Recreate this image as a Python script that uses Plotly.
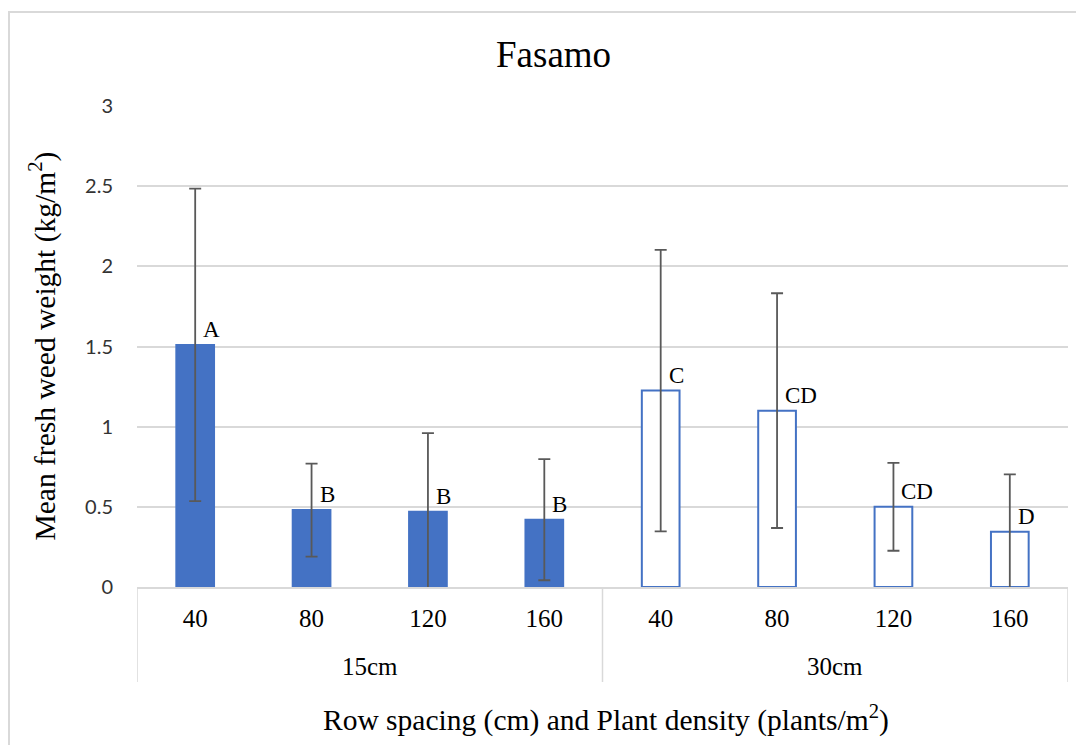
import plotly.graph_objects as go

# ---- data ----
spacings = ["15cm", "30cm"]
densities = ["40", "80", "120", "160"]
mean_15cm = [1.51, 0.48, 0.47, 0.42]
mean_30cm = [1.225, 1.10, 0.50, 0.345]
err_15cm = [0.975, 0.29, 0.49, 0.378]
err_30cm = [0.878, 0.732, 0.274, 0.358]
letters_15cm = ["A", "B", "B", "B"]
letters_30cm = ["C", "CD", "CD", "D"]
y_ticks = [0, 0.5, 1, 1.5, 2, 2.5, 3]

BLUE = "#4472C4"
GRID = "#D9D9D9"
SERIF = "Liberation Serif, Times New Roman, serif"

n_in = len(densities)
groups = [(s, d) for s in spacings for d in densities]
xpos = list(range(len(groups)))
ticktext = [d for _, d in groups]
means = mean_15cm + mean_30cm
errs = err_15cm + err_30cm
letters = letters_15cm + letters_30cm
fills = [BLUE] * len(mean_15cm) + ["white"] * len(mean_30cm)

# page has 8px body margin: figure pixel = screen pixel - 8
W, H = 1076, 737
ML, MR, MT, MB = 129, 16, 98, 158
PW = W - ML - MR
PH = H - MT - MB


def px_x(px):
    return (px - 8 - ML) / PW


def px_y(py):
    return (H - MB - (py - 8)) / PH


fig = go.Figure()
fig.add_trace(go.Bar(
    x=xpos,
    y=means,
    width=0.324,
    marker=dict(color=fills, line=dict(color=BLUE, width=2)),
    error_y=dict(type="data", array=errs, visible=True,
                 color="#595959", thickness=1.8, width=6),
    showlegend=False,
    hoverinfo="skip",
))

annotations = []
for xi, m, lab in zip(xpos, means, letters):
    annotations.append(dict(
        x=xi, y=m, xref="x", yref="y", text=lab, showarrow=False,
        xanchor="left", yanchor="bottom", xshift=6, yshift=1,
        font=dict(family=SERIF, size=23, color="black"),
    ))

# outer group labels and dividers
shapes = []
for gi, s in enumerate(spacings):
    center = gi * n_in + (n_in - 1) / 2
    annotations.append(dict(
        x=center, y=px_y(666), xref="x", yref="paper", text=s,
        showarrow=False, xanchor="center", yanchor="middle",
        font=dict(family=SERIF, size=25, color="black"),
    ))
for b in range(len(spacings) + 1):
    xb = b * n_in - 0.5
    shapes.append(dict(type="line", xref="x", yref="paper",
                       x0=xb, x1=xb, y0=0, y1=px_y(682),
                       line=dict(color=GRID, width=1.5)))

annotations.append(dict(
    x=px_x(553), y=px_y(55), xref="paper", yref="paper",
    text="Fasamo", showarrow=False, xanchor="center", yanchor="middle",
    font=dict(family=SERIF, size=37, color="black"),
))
annotations.append(dict(
    x=px_x(43), y=0.5, xref="paper", yref="paper",
    text="Mean fresh weed weight (kg/m<sup>2</sup>)", showarrow=False,
    textangle=-90, xanchor="center", yanchor="middle",
    font=dict(family=SERIF, size=29.5, color="black"),
))
annotations.append(dict(
    x=px_x(606), y=px_y(718), xref="paper", yref="paper",
    text="Row spacing (cm) and Plant density (plants/m<sup>2</sup>)", showarrow=False,
    xanchor="center", yanchor="middle",
    font=dict(family=SERIF, size=29.5, color="black"),
))

shapes.append(dict(type="rect", xref="paper", yref="paper",
                   x0=px_x(9), x1=px_x(1110),
                   y0=px_y(770), y1=px_y(12),
                   line=dict(color=GRID, width=2), fillcolor="rgba(0,0,0,0)",
                   layer="below"))

fig.update_layout(
    width=W, height=H,
    margin=dict(l=ML, r=MR, t=MT, b=MB, autoexpand=False),
    paper_bgcolor="white", plot_bgcolor="white",
    annotations=annotations,
    shapes=shapes,
)
fig.update_xaxes(
    range=[-0.5, len(groups) - 0.5],
    tickvals=xpos, ticktext=ticktext,
    showline=True, linecolor=GRID, linewidth=1.5,
    showgrid=False, zeroline=False,
    ticks="", ticklabelstandoff=8,
    tickfont=dict(family=SERIF, size=25, color="black"),
)
fig.update_yaxes(
    range=[0, 3], tickvals=y_ticks, ticktext=[f"{v:g}" for v in y_ticks],
    showgrid=True, gridcolor=GRID, gridwidth=1.5,
    zeroline=False, showline=False, ticks="",
    ticklabelstandoff=23,
    tickfont=dict(family="Lato, Open Sans, sans-serif", size=20, color="#333333"),
)

fig.write_html("out.html")
